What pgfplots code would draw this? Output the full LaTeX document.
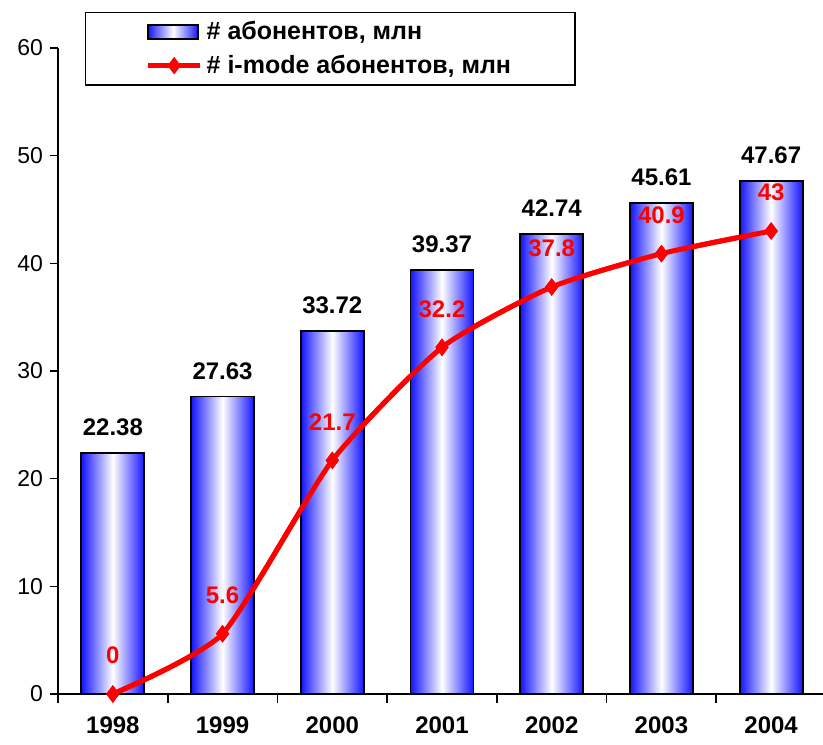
\documentclass[border=0pt]{standalone}
\usepackage{fontspec}
\setmainfont{Liberation Sans}
\usepackage{pgfplots}
\pgfplotsset{compat=1.18}
\definecolor{barblue}{RGB}{20,20,255}
\definecolor{lred}{RGB}{255,0,0}
\pgfplotsset{
  barleg/.style={legend image code/.code={\draw[##1] (0pt,-3.5pt) rectangle (25pt,3.5pt);}},
  lineleg/.style={legend image code/.code={\draw[mark repeat=2,mark phase=2,##1] plot coordinates {(0pt,0pt) (13pt,0pt) (26pt,0pt)};}},
  shbar/.style={draw=black, line width=0.9pt, left color=barblue, right color=barblue, middle color=white,
  ybar, bar width=31.5pt, bar shift=0pt},
}
\begin{document}
\begin{tikzpicture}
\path[use as bounding box] (0,0) rectangle (411.5pt,372pt);
\begin{axis}[
  at={(29pt,25pt)}, anchor=south west,
  scale only axis, width=384pt, height=323pt,
  xmin=-0.5, xmax=6.5, ymin=0, ymax=60,
  clip=false,
  axis x line*=bottom, axis y line*=left,
  axis line style={-, line width=0.8pt},
  xtick={0,...,6},
  xticklabels={1998,1999,2000,2001,2002,2003,2004},
  minor xtick={-0.5,0.5,...,6.5},
  major x tick style={draw=none},
  minor x tick style={line width=0.8pt, black},
  minor tick length=4.5pt,
  ytick={0,10,...,60},
  y tick style={line width=0.8pt, black},
  major tick length=4pt,
  tick align=outside,
  /pgf/number format/assume math mode=true,
  xticklabel style={font=\bfseries\fontsize{12}{14}\selectfont, yshift=-4pt},
  yticklabel style={font=\fontsize{11.5}{13}\selectfont},
  legend style={at={(0.035,1.056)}, anchor=north west, draw=black, line width=0.8pt,
    font=\bfseries\fontsize{12.5}{14}\selectfont, inner xsep=30pt, inner ysep=2.5pt, row sep=2pt},
  legend cell align=left,
]
\addplot[shbar, barleg] coordinates {(0,22.38)};
\addlegendentry{\# абонентов, млн}
\addplot[lred, line width=2.5pt, smooth, tension=0.35, mark=diamond*, mark size=4pt,
  mark options={line width=0.5pt}, lineleg]
  coordinates {(0,0) (1,5.6) (2,21.7) (3,32.2) (4,37.8) (5,40.9) (6,43)};
\addlegendentry{\# i-mode абонентов, млн}
\addplot[shbar, forget plot] coordinates {(1,27.63)};
\addplot[shbar, forget plot] coordinates {(2,33.72)};
\addplot[shbar, forget plot] coordinates {(3,39.37)};
\addplot[shbar, forget plot] coordinates {(4,42.74)};
\addplot[shbar, forget plot] coordinates {(5,45.61)};
\addplot[shbar, forget plot] coordinates {(6,47.67)};
\addplot[lred, line width=2.5pt, smooth, tension=0.35, mark=diamond*, mark size=4pt,
  mark options={line width=0.5pt}, forget plot]
  coordinates {(0,0) (1,5.6) (2,21.7) (3,32.2) (4,37.8) (5,40.9) (6,43)};
\addplot[draw=none, mark=none, forget plot, nodes near coords,
  point meta=explicit symbolic,
  nodes near coords style={anchor=south, yshift=5pt, text=black, font=\bfseries\fontsize{12}{14}\selectfont}]
  coordinates {(0,22.38)[22.38] (1,27.63)[27.63] (2,33.72)[33.72] (3,39.37)[39.37] (4,42.74)[42.74] (5,45.61)[45.61] (6,47.67)[47.67]};
\addplot[draw=none, mark=none, forget plot, nodes near coords,
  point meta=explicit symbolic,
  nodes near coords style={anchor=south, yshift=11.4pt, text=lred, font=\bfseries\fontsize{12}{14}\selectfont}]
  coordinates {(0,0)[0] (1,5.6)[5.6] (2,21.7)[21.7] (3,32.2)[32.2] (4,37.8)[37.8] (5,40.9)[40.9] (6,43)[43]};
\end{axis}
\end{tikzpicture}
\end{document}
